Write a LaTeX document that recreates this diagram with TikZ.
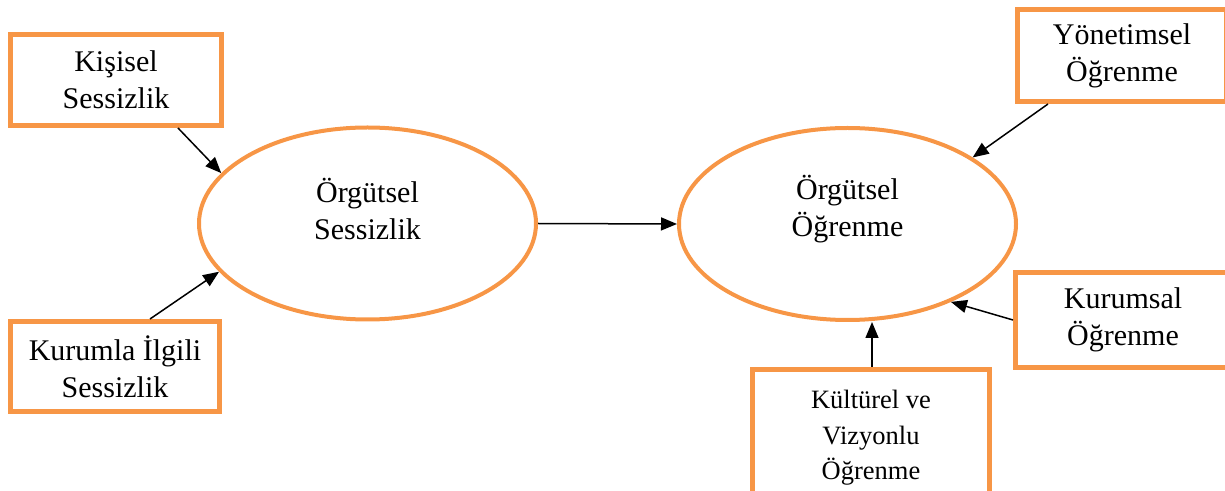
\documentclass[tikz,border=0pt]{standalone}
\usepackage{fontspec}
\setmainfont{Liberation Serif}
\usetikzlibrary{arrows.meta,shapes.geometric}
\definecolor{turuncu}{HTML}{F79646}
\tikzset{
  kutu/.style={draw=turuncu, line width=2.5pt, fill=white, align=center, inner sep=0pt, font=\fontsize{15}{18.5}\selectfont},
  elips/.style={draw=turuncu, line width=2pt, ellipse, inner sep=0pt, minimum width=168.5pt, minimum height=96pt},
  yazi/.style={align=center, inner sep=0pt, font=\fontsize{15}{18.5}\selectfont},
  ok/.style={-{Triangle[length=8pt,width=6.5pt]}, line width=0.75pt}
}
\begin{document}
\begin{tikzpicture}[x=0.5pt,y=-0.5pt]
		\useasboundingbox (0,0) rectangle (1225,491);
		\clip (0,0) rectangle (1225,491);
		\coordinate (S) at (367.5,223.5);
		\coordinate (O) at (847.5,224);
		% sessizlik
		\node[elips] (sessizlik) at (S) {};
		\node[yazi] (sessizlikyazi) at (367.5,209) {Örgütsel\\Sessizlik};
		\node[kutu, minimum width=105.5pt, minimum height=45.5pt] (kisisel) at (116,80) {Kişisel\\Sessizlik};
		\node[kutu, minimum width=104.5pt, minimum height=45pt] (kurumla) at (115,366.5) {Kurumla İlgili\\Sessizlik};
		% ogrenme
		\node[elips] (ogrenme) at (O) {};
		\node[yazi] (ogrenmeyazi) at (847.5,209.5) {Örgütsel\\Öğrenme};
		\node[kutu, minimum width=104.5pt, minimum height=46pt] (yonetim) at (1122,55.5) {Yönetimsel\\Öğrenme};
		\node[kutu, minimum width=107.5pt, minimum height=47.5pt] (kurumsal) at (1123,320) {Kurumsal\\Öğrenme};
		\node[kutu, minimum width=118.5pt, minimum height=68.5pt, font=\fontsize{13.25}{17.75}\selectfont] (kultur) at (871,438) {Kültürel ve\\Vizyonlu\\Öğrenme};
		\draw[ok] ([xshift=31pt]kisisel.south) -- (sessizlik.161);
		\draw[ok] ([xshift=17.5pt]kurumla.north) -- (sessizlik.198);
		\draw[ok] (sessizlik.east) -- (ogrenme.west);
		\draw[ok] ([xshift=-37pt]yonetim.south) -- (ogrenme.28);
		\draw[ok] (kurumsal.west) -- (ogrenme.323);
		\draw[ok] ([xshift=0.5pt]kultur.north) -- ([xshift=0.5pt]kultur.north |- ogrenme.south);
\end{tikzpicture}
\end{document}
